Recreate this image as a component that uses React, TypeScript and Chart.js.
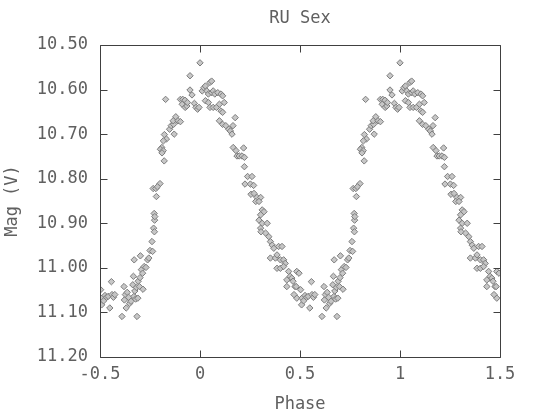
import React, { useEffect, useRef } from "react";
import { Chart, registerables } from "chart.js";

Chart.register(...registerables);

const TITLE = "RU Sex";
const X_TITLE = "Phase";
const Y_TITLE = "Mag (V)";
const X_TICKS = [-0.5, 0, 0.5, 1, 1.5];
const Y_TICKS = [10.5, 10.6, 10.7, 10.8, 10.9, 11.0, 11.1, 11.2];

// One cycle of the folded light curve, phase in [-0.5, 0.5); plotted twice (phase and phase + 1)
const PHASE = [
  -0.497, -0.492, -0.49, -0.482, -0.475, -0.467, -0.459, -0.451, -0.443, -0.44,
  -0.433, -0.426, -0.39, -0.38, -0.378, -0.373, -0.369, -0.364, -0.357, -0.352,
  -0.345, -0.336, -0.333, -0.33, -0.326, -0.322, -0.315, -0.318, -0.311, -0.309,
  -0.303, -0.3, -0.329, -0.298, -0.293, -0.287, -0.285, -0.279, -0.27, -0.262,
  -0.256, -0.25, -0.24, -0.237,
  -0.232, -0.228, -0.227, -0.229, -0.226, -0.234, -0.221, -0.218, -0.2, -0.213,
  -0.179, -0.168, -0.183, -0.191, -0.198, -0.184, -0.19, -0.178, -0.152, -0.144,
  -0.132, -0.129, -0.121, -0.134, -0.11, -0.098, -0.172, -0.098, -0.086, -0.089,
  -0.075, -0.074, -0.066, -0.063, -0.028, -0.02, -0.012, -0.005, -0.05, -0.05,
  -0.04, 0.0,
  0.011, 0.019, 0.027, 0.034, 0.05, 0.058, 0.042, 0.058, 0.066, 0.074,
  0.089, 0.105, 0.113, 0.027, 0.042, 0.05, 0.066, 0.082, 0.097, 0.121,
  0.105, 0.113,
  0.097, 0.113, 0.129, 0.144, 0.152, 0.16, 0.165, 0.176, 0.166, 0.18,
  0.185, 0.196, 0.21, 0.222, 0.218, 0.222, 0.238, 0.26, 0.225, 0.252,
  0.268, 0.255, 0.27, 0.285, 0.303, 0.279, 0.295, 0.311, 0.303, 0.32,
  0.295, 0.311, 0.336, 0.303, 0.305, 0.328, 0.344, 0.352, 0.361, 0.369,
  0.393, 0.41, 0.352, 0.377, 0.385, 0.402, 0.418, 0.426, 0.385, 0.402,
  0.418, 0.443, 0.484, 0.451, 0.434, 0.459, 0.434, 0.475, 0.484, 0.47,
  0.495, 0.465, 0.481,
];

const MAG = [
  11.049, 11.083, 11.068, 11.074, 11.062, 11.066, 11.064, 11.09, 11.031, 11.06,
  11.066, 11.06, 11.109, 11.042, 11.072, 11.06, 11.09, 11.055, 11.066, 11.08,
  11.075, 11.038, 11.019, 11.064, 11.052, 11.07, 11.109, 11.044, 11.068, 11.03,
  11.042, 11.022, 10.982, 10.973, 11.004, 11.012, 11.048, 10.997, 10.999, 10.982,
  10.978, 10.961, 10.941, 10.963,
  10.911, 10.919, 10.893, 10.878, 10.885, 10.822, 10.822, 10.84, 10.811, 10.818,
  10.76, 10.711, 10.715, 10.73, 10.734, 10.737, 10.742, 10.701, 10.689, 10.681,
  10.678, 10.7, 10.661, 10.67, 10.67, 10.672, 10.622, 10.622, 10.622, 10.633,
  10.624, 10.64, 10.637, 10.629, 10.631, 10.64, 10.644, 10.64, 10.569, 10.601,
  10.612, 10.54,
  10.603, 10.596, 10.592, 10.603, 10.584, 10.581, 10.61, 10.607, 10.603, 10.61,
  10.607, 10.61, 10.614, 10.625, 10.629, 10.64, 10.64, 10.64, 10.633, 10.629,
  10.648, 10.651,
  10.67, 10.678, 10.681, 10.689, 10.693, 10.7, 10.681, 10.663, 10.73, 10.737,
  10.749, 10.749, 10.749, 10.752, 10.731, 10.773, 10.795, 10.795, 10.812, 10.812,
  10.815, 10.835, 10.833, 10.842, 10.842, 10.851, 10.851, 10.87, 10.881, 10.874,
  10.893, 10.9, 10.9, 10.911, 10.919, 10.922, 10.93, 10.941, 10.949, 10.956,
  10.952, 10.952, 10.978, 10.978, 10.971, 10.982, 10.982, 10.99, 11.001, 11.001,
  10.997, 11.008, 11.008, 11.019, 11.027, 11.023, 11.042, 11.042, 11.068, 11.06,
  11.012, 11.03, 11.042,
];

const FONT_FAMILY = "'DejaVu Sans Mono', monospace";
const FONT_SIZE = 17;
const TEXT_COLOR = "#606060";
const FRAME_COLOR = "#404040";

const framePlugin = {
  id: "frameTicks",
  afterDatasetsDraw(chart: any) {
    const { ctx, chartArea, scales } = chart;
    const { left, right, top, bottom } = chartArea;
    const xs = scales.x;
    const ys = scales.y;
    ctx.save();
    ctx.strokeStyle = FRAME_COLOR;
    ctx.lineWidth = 1;
    const L = Math.round(left) + 0.5;
    const R = Math.round(right) + 0.5;
    const T = Math.round(top) + 0.5;
    const B = Math.round(bottom) + 0.5;
    ctx.beginPath();
    ctx.rect(L, T, R - L, B - T);
    X_TICKS.forEach((v) => {
      const px = Math.round(xs.getPixelForValue(v)) + 0.5;
      ctx.moveTo(px, B);
      ctx.lineTo(px, B - 7);
      ctx.moveTo(px, T);
      ctx.lineTo(px, T + 7);
    });
    Y_TICKS.forEach((v) => {
      const py = Math.round(ys.getPixelForValue(v)) + 0.5;
      ctx.moveTo(L, py);
      ctx.lineTo(L + 7, py);
      ctx.moveTo(R, py);
      ctx.lineTo(R - 7, py);
    });
    ctx.stroke();
    ctx.restore();
  },
};

export default function App() {
  const canvasRef = useRef<HTMLCanvasElement | null>(null);

  useEffect(() => {
    const canvas = canvasRef.current;
    if (!canvas) return;
    const points: { x: number; y: number }[] = [];
    PHASE.forEach((p, i) => points.push({ x: p, y: MAG[i] }));
    PHASE.forEach((p, i) => points.push({ x: p + 1, y: MAG[i] }));

    const chart = new Chart(canvas, {
      type: "scatter",
      data: {
        datasets: [
          {
            label: TITLE,
            data: points,
            pointStyle: "rectRot",
            pointRadius: 3.2,
            pointHoverRadius: 3.2,
            backgroundColor: "rgba(196,196,196,0.95)",
            borderColor: "#7c7c7c",
            borderWidth: 1,
          },
        ],
      },
      options: {
        responsive: false,
        animation: false,
        devicePixelRatio: 1,
        layout: { padding: { left: 0, right: 58, top: 0, bottom: 0 } },
        plugins: {
          legend: { display: false },
          tooltip: { enabled: false },
          title: {
            display: true,
            text: TITLE,
            fullSize: false,
            color: TEXT_COLOR,
            font: { family: FONT_FAMILY, size: FONT_SIZE, weight: "normal" },
            padding: { top: 8, bottom: 16.6 },
          },
        },
        scales: {
          x: {
            type: "linear",
            min: -0.5,
            max: 1.5,
            afterBuildTicks: (s: any) => {
              s.ticks = X_TICKS.map((v) => ({ value: v }));
            },
            afterFit: (s: any) => {
              s.height = 59;
            },
            grid: { display: false, drawTicks: false },
            border: { display: false },
            ticks: {
              color: TEXT_COLOR,
              font: { family: FONT_FAMILY, size: FONT_SIZE },
              padding: 7.5,
              maxRotation: 0,
              autoSkip: false,
              callback: (v: any) => String(v),
            },
            title: {
              display: true,
              text: X_TITLE,
              color: TEXT_COLOR,
              font: { family: FONT_FAMILY, size: FONT_SIZE },
              padding: { top: 0, bottom: 0.8 },
            },
          },
          y: {
            type: "linear",
            min: 10.5,
            max: 11.2,
            reverse: true,
            afterBuildTicks: (s: any) => {
              s.ticks = Y_TICKS.map((v) => ({ value: v }));
            },
            afterFit: (s: any) => {
              s.width = 100;
            },
            grid: { display: false, drawTicks: false },
            border: { display: false },
            ticks: {
              color: TEXT_COLOR,
              font: { family: FONT_FAMILY, size: FONT_SIZE },
              padding: 12,
              autoSkip: false,
              callback: (v: any) => Number(v).toFixed(2),
            },
            title: {
              display: true,
              text: Y_TITLE,
              color: TEXT_COLOR,
              font: { family: FONT_FAMILY, size: FONT_SIZE },
              padding: { top: 2.8, bottom: 0 },
            },
          },
        },
      },
      plugins: [framePlugin],
    });

    return () => {
      chart.destroy();
    };
  }, []);

  return (
    <div
      style={{
        position: "absolute",
        left: 0,
        top: 0,
        width: 558,
        height: 416,
        background: "#ffffff",
      }}
    >
      <canvas ref={canvasRef} width={558} height={416} style={{ display: "block" }} />
    </div>
  );
}
